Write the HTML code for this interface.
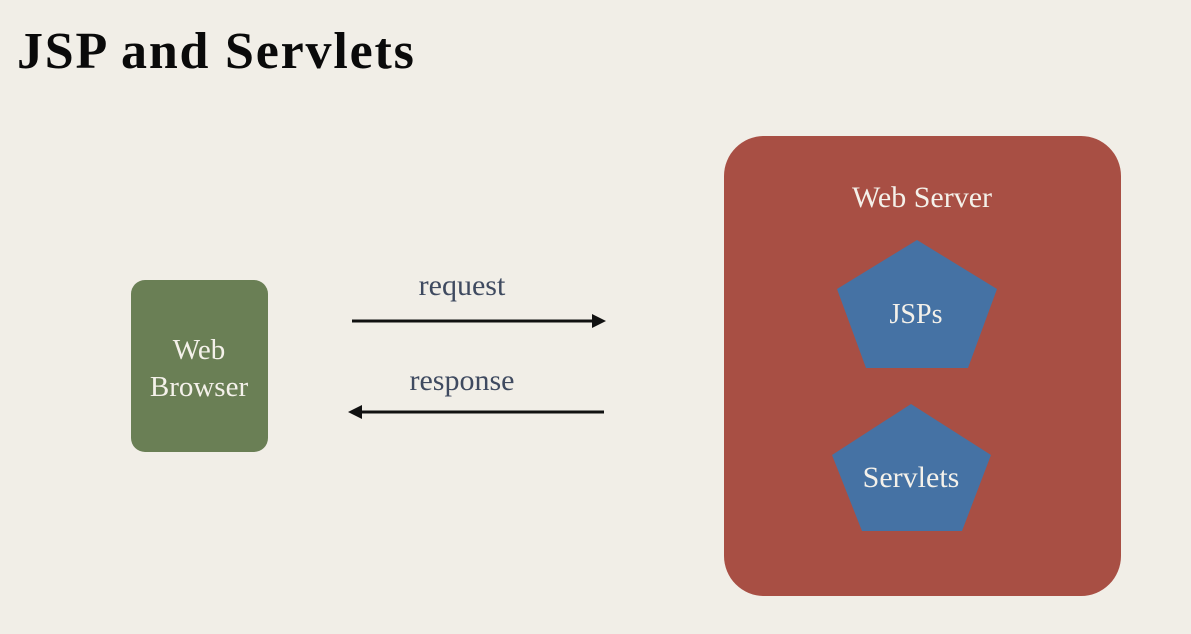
<!DOCTYPE html>
<html><head><meta charset="utf-8"><style>
body{margin:0;width:1191px;height:634px;background:#f1eee7;overflow:hidden;position:relative;font-family:"Liberation Serif",serif}
.t{position:absolute;left:17px;top:22px;font-size:52px;font-weight:bold;color:#0a0a0a;letter-spacing:1.8px}
</style></head><body>
<div class="t">JSP and Servlets</div>
<svg width="1191" height="634" style="position:absolute;left:0;top:0" font-family="Liberation Serif, serif">
<rect x="131" y="280" width="137" height="172" rx="14" fill="#6a7f55"/>
<text x="199" y="359" font-size="29" fill="#f4f1ea" text-anchor="middle">Web</text>
<text x="199" y="396" font-size="29" fill="#f4f1ea" text-anchor="middle">Browser</text>
<text x="462" y="295" font-size="30" fill="#3f4a60" text-anchor="middle">request</text>
<text x="462" y="390" font-size="30" fill="#3f4a60" text-anchor="middle">response</text>
<line x1="352" y1="321" x2="596" y2="321" stroke="#111" stroke-width="3"/>
<polygon points="606,321 592,314 592,328" fill="#111"/>
<line x1="360" y1="412" x2="604" y2="412" stroke="#111" stroke-width="3"/>
<polygon points="348,412 362,405 362,419" fill="#111"/>
<rect x="724" y="136" width="397" height="460" rx="40" fill="#a84f44"/>
<text x="922" y="207" font-size="30" fill="#f4f1ea" text-anchor="middle">Web Server</text>
<polygon points="917,240 997,289 968,368 866,368 837,289" fill="#4572a4"/>
<text x="916" y="323" font-size="28" fill="#f4f1ea" text-anchor="middle">JSPs</text>
<polygon points="911,404 991,455 962,531 862,531 832,455" fill="#4572a4"/>
<text x="911" y="487" font-size="30" fill="#f4f1ea" text-anchor="middle">Servlets</text>
</svg>
</body></html>
